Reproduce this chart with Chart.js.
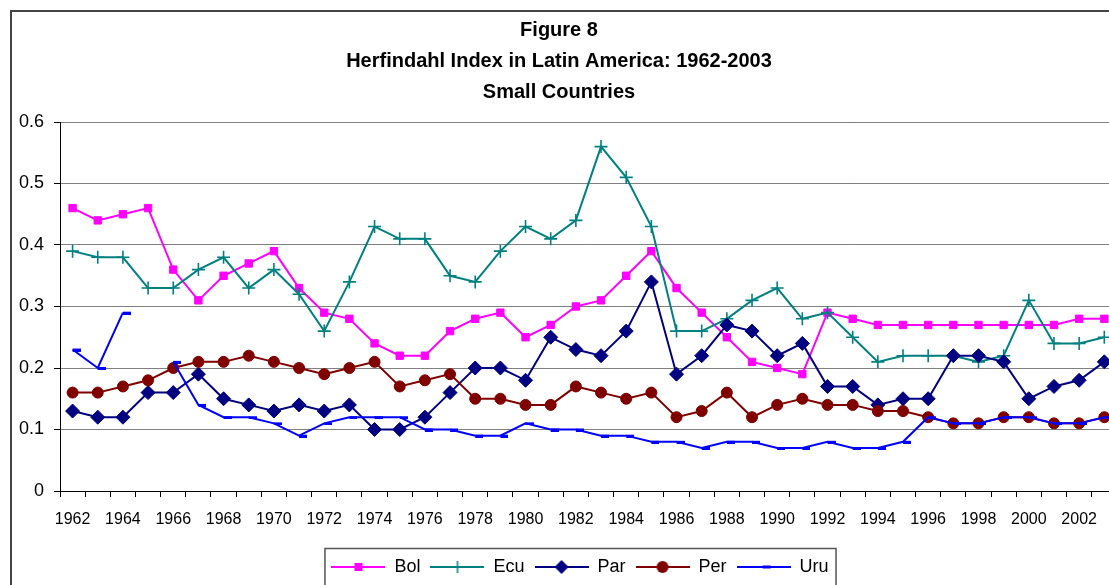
<!DOCTYPE html>
<html>
<head>
<meta charset="utf-8">
<script src="https://cdn.jsdelivr.net/npm/chart.js@4"></script>
<style>
  html, body { margin: 0; padding: 0; background: #fff; overflow: hidden; }
  #wrap { width: 1109px; height: 585px; overflow: hidden; }
</style>
</head>
<body>
<div id="wrap"><canvas id="chart" width="1125" height="600"></canvas></div>
<script>
const years = [];
for (let y = 1962; y <= 2003; y++) years.push(String(y));

const bol = [0.46, 0.44, 0.45, 0.46, 0.36, 0.31, 0.35, 0.37, 0.39, 0.33, 0.29, 0.28, 0.24, 0.22, 0.22, 0.26, 0.28, 0.29, 0.25, 0.27, 0.30,
  0.31, 0.35, 0.39, 0.33, 0.29, 0.25, 0.21, 0.20, 0.19, 0.29, 0.28, 0.27, 0.27, 0.27, 0.27, 0.27, 0.27, 0.27, 0.27, 0.28, 0.28];
const ecu = [0.39, 0.38, 0.38, 0.33, 0.33, 0.36, 0.38, 0.33, 0.36, 0.32, 0.26, 0.34, 0.43, 0.41, 0.41, 0.35, 0.34, 0.39, 0.43, 0.41, 0.44,
  0.56, 0.51, 0.43, 0.26, 0.26, 0.28, 0.31, 0.33, 0.28, 0.29, 0.25, 0.21, 0.22, 0.22, 0.22, 0.21, 0.22, 0.31, 0.24, 0.24, 0.25];
const par = [0.13, 0.12, 0.12, 0.16, 0.16, 0.19, 0.15, 0.14, 0.13, 0.14, 0.13, 0.14, 0.10, 0.10, 0.12, 0.16, 0.20, 0.20, 0.18, 0.25, 0.23,
  0.22, 0.26, 0.34, 0.19, 0.22, 0.27, 0.26, 0.22, 0.24, 0.17, 0.17, 0.14, 0.15, 0.15, 0.22, 0.22, 0.21, 0.15, 0.17, 0.18, 0.21];
const per = [0.16, 0.16, 0.17, 0.18, 0.20, 0.21, 0.21, 0.22, 0.21, 0.20, 0.19, 0.20, 0.21, 0.17, 0.18, 0.19, 0.15, 0.15, 0.14, 0.14, 0.17,
  0.16, 0.15, 0.16, 0.12, 0.13, 0.16, 0.12, 0.14, 0.15, 0.14, 0.14, 0.13, 0.13, 0.12, 0.11, 0.11, 0.12, 0.12, 0.11, 0.11, 0.12];
// no value for Uruguay in 1965
const uru = [0.23, 0.20, 0.29, null, 0.21, 0.14, 0.12, 0.12, 0.11, 0.09, 0.11, 0.12, 0.12, 0.12, 0.10, 0.10, 0.09, 0.09, 0.11, 0.10, 0.10,
  0.09, 0.09, 0.08, 0.08, 0.07, 0.08, 0.08, 0.07, 0.07, 0.08, 0.07, 0.07, 0.08, 0.12, 0.11, 0.11, 0.12, 0.12, 0.11, 0.11, 0.12];

const seriesNames = ['Bol', 'Ecu', 'Par', 'Per', 'Uru'];
const seriesColors = ['#FF00FF', '#008080', '#000080', '#800000', '#0000FF'];
const yTicks = [0, 0.1, 0.2, 0.3, 0.4, 0.5, 0.6];

const FONT = "'Liberation Sans', Arial, sans-serif";

// small dash marker, drawn to the right of the point like Excel does
const dash = document.createElement('canvas');
dash.width = 16;
dash.height = 4;
(function () {
  const c = dash.getContext('2d');
  c.fillStyle = seriesColors[4];
  c.fillRect(8, 1, 8, 3);
})();

// legend icon: line with the marker in the middle
const makeIcon = (color, kind) => {
  const cv = document.createElement('canvas');
  cv.width = 54;
  cv.height = 16;
  const c = cv.getContext('2d');
  c.strokeStyle = color;
  c.fillStyle = color;
  c.lineWidth = 2;
  c.beginPath();
  c.moveTo(0, 8);
  c.lineTo(54, 8);
  c.stroke();
  const cx = 27, cy = 8;
  c.beginPath();
  if (kind === 'rect') {
    c.fillRect(cx - 4, cy - 4, 8, 8);
  } else if (kind === 'cross') {
    c.lineWidth = 1.5;
    c.moveTo(cx - 6, cy); c.lineTo(cx + 6, cy);
    c.moveTo(cx, cy - 6); c.lineTo(cx, cy + 6);
    c.stroke();
  } else if (kind === 'diamond') {
    c.moveTo(cx, cy - 7); c.lineTo(cx + 7, cy); c.lineTo(cx, cy + 7); c.lineTo(cx - 7, cy);
    c.closePath();
    c.fill();
  } else if (kind === 'circle') {
    c.arc(cx, cy, 6, 0, Math.PI * 2);
    c.fill();
  } else {
    c.fillRect(cx - 1, cy - 1.5, 8, 3);
  }
  return cv;
};
const legendIcons = [
  makeIcon(seriesColors[0], 'rect'),
  makeIcon(seriesColors[1], 'cross'),
  makeIcon(seriesColors[2], 'diamond'),
  makeIcon(seriesColors[3], 'circle'),
  makeIcon(seriesColors[4], 'dash'),
];

// outer frame, legend frame and a small shift of the legend
const framePlugin = {
  id: 'frames',
  afterLayout(chart) {
    const lg = chart.legend;
    lg.left += 21;
    lg.right += 21;
  },
  beforeDraw(chart) {
    const ctx = chart.ctx;
    ctx.save();
    ctx.fillStyle = '#fff';
    ctx.fillRect(0, 0, chart.width, chart.height);
    ctx.strokeStyle = '#444';
    ctx.lineWidth = 2;
    ctx.strokeRect(11, 11, chart.width + 20, chart.height + 20);
    ctx.restore();
  },
  afterDraw(chart) {
    const boxes = chart.legend.legendHitBoxes;
    if (!boxes || !boxes.length) return;
    const ctx = chart.ctx;
    const x0 = boxes[0].left - 7;
    const last = boxes[boxes.length - 1];
    const x1 = last.left + last.width + 7;
    ctx.save();
    ctx.strokeStyle = '#555';
    ctx.lineWidth = 1.5;
    ctx.strokeRect(x0 + 0.5, chart.legend.top + 0.5, x1 - x0, 80);
    ctx.restore();
  }
};

const ds = (i, data, extra) => Object.assign({
  label: seriesNames[i],
  data: data,
  borderColor: seriesColors[i],
  backgroundColor: seriesColors[i],
  pointBackgroundColor: seriesColors[i],
  pointBorderColor: seriesColors[i],
  borderWidth: 2,
  pointBorderWidth: 1,
  tension: 0,
  spanGaps: false,
  order: 5 - i,
}, extra);

const ctx = document.getElementById('chart').getContext('2d');
new Chart(ctx, {
  type: 'line',
  data: {
    labels: years,
    datasets: [
      ds(0, bol, { pointStyle: 'rect', pointRadius: 5.2 }),
      ds(1, ecu, { pointStyle: 'cross', pointRadius: 6.5, pointBorderWidth: 1.6 }),
      ds(2, par, { pointStyle: 'rectRot', pointRadius: 7 }),
      ds(3, per, { pointStyle: 'circle', pointRadius: 5.5 }),
      ds(4, uru, { pointStyle: dash, pointRadius: 4 }),
    ],
  },
  options: {
    responsive: false,
    animation: false,
    devicePixelRatio: 1,
    layout: { padding: { top: 12, right: 7, left: 0, bottom: 14 } },
    plugins: {
      tooltip: { enabled: false },
      title: {
        display: true,
        text: ['Figure 8', 'Herfindahl Index in Latin America: 1962-2003', 'Small Countries'],
        color: '#000',
        font: { family: FONT, size: 20, weight: 'bold', lineHeight: 1.55 },
        padding: { top: 3, bottom: 14 },
      },
      legend: {
        position: 'bottom',
        labels: {
          usePointStyle: true,
          pointStyleWidth: 54,
          padding: 10,
          color: '#000',
          font: { family: FONT, size: 18 },
          generateLabels: () => seriesNames.map((name, i) => ({
            text: name,
            pointStyle: legendIcons[i],
            fillStyle: seriesColors[i],
            strokeStyle: seriesColors[i],
            lineWidth: 0,
            hidden: false,
            datasetIndex: i,
          })),
        },
      },
    },
    scales: {
      x: {
        offset: true,
        grid: {
          offset: true,
          drawOnChartArea: false,
          drawTicks: true,
          tickLength: 6,
          tickColor: '#000',
        },
        border: { color: '#000', width: 1 },
        ticks: {
          autoSkip: false,
          maxRotation: 0,
          minRotation: 0,
          padding: 13,
          color: '#000',
          font: { family: FONT, size: 16 },
          callback: (v, i) => (i % 2 === 0 ? years[i] : ''),
        },
        afterFit: (scale) => { scale.height = 57; },
      },
      y: {
        min: 0,
        max: 0.6,
        afterBuildTicks: (scale) => { scale.ticks = yTicks.map(v => ({ value: v })); },
        grid: {
          color: '#808080',
          lineWidth: 1,
          tickLength: 6,
          tickColor: '#000',
        },
        border: { color: '#000', width: 1 },
        ticks: {
          padding: 10,
          color: '#000',
          font: { family: FONT, size: 18 },
          callback: (v) => (v === 0 ? '0' : v.toFixed(1)),
        },
        afterFit: (scale) => { scale.width = 60; },
      },
    },
  },
  plugins: [framePlugin],
});
</script>
</body>
</html>
